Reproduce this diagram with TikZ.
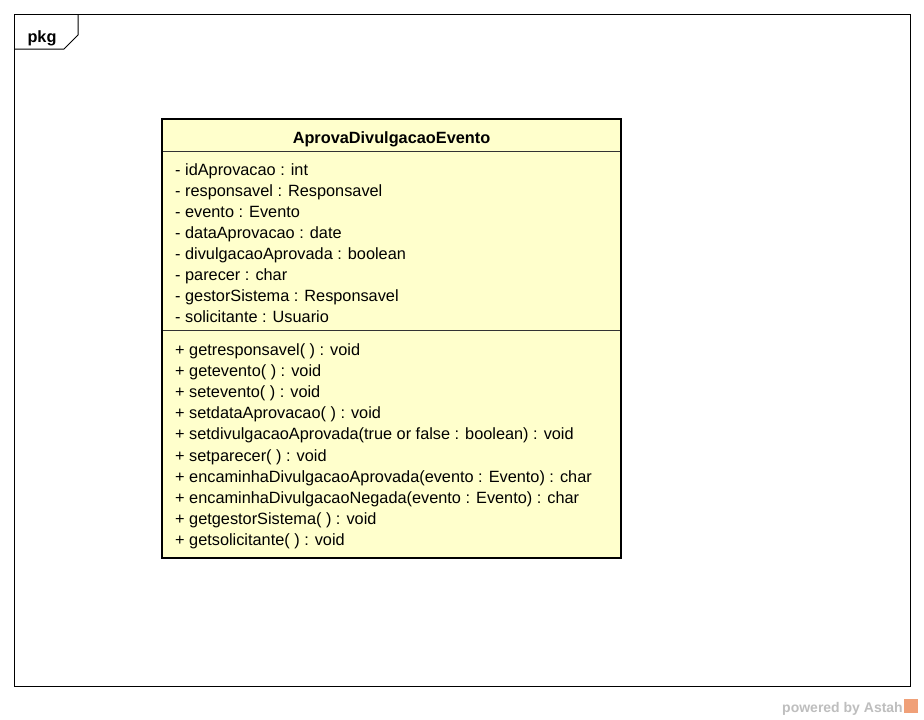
\documentclass[tikz,border=0pt]{standalone}
\usepackage{fontspec}
\setmainfont{Liberation Sans}
\begin{document}
\begin{tikzpicture}[x=1pt,y=-1pt,
  member/.style={anchor=base west,inner sep=0pt,font=\fontsize{16.3}{19}\selectfont},
  title/.style={anchor=base,inner sep=0pt,font=\fontsize{16.3}{19}\selectfont\bfseries},
  thin/.style={line width=1pt,draw=black}]
\useasboundingbox[fill=white] (0,0) rectangle (924,720);
% package frame
\draw[thin] (14,14) rectangle (910,686);
\draw[thin] (14,49) -- (64,49) -- (78,35) -- (78,14);
\node[title] (pkg) at (42,42) {pkg};
% class box
\coordinate (ctl) at (162,119);
\coordinate (cbr) at (621,558);
\fill[fill={rgb,255:red,255;green,255;blue,204}] (ctl) rectangle (cbr);
\draw[line width=0.9pt,draw=black!80] (162,151) -- (621,151);
\draw[line width=0.9pt,draw=black!80] (162,330) -- (621,330);
\draw[line width=2.6pt,draw=black] (ctl) rectangle (cbr);
\node[title] (cname) at (391.5,143) {AprovaDivulgacaoEvento};
\foreach \t [count=\i from 0] in {
  {- idAprovacao : int},
  {- responsavel : Responsavel},
  {- evento : Evento},
  {- dataAprovacao : date},
  {- divulgacaoAprovada : boolean},
  {- parecer : char},
  {- gestorSistema : Responsavel},
  {- solicitante : Usuario}}
  \node[member] (a\i) at (175,175+21.14*\i) {\t};
\foreach \t [count=\i from 0] in {
  {+ getresponsavel( ) : void},
  {+ getevento( ) : void},
  {+ setevento( ) : void},
  {+ setdataAprovacao( ) : void},
  {+ setdivulgacaoAprovada(true or false : boolean) : void},
  {+ setparecer( ) : void},
  {+ encaminhaDivulgacaoAprovada(evento : Evento) : char},
  {+ encaminhaDivulgacaoNegada(evento : Evento) : char},
  {+ getgestorSistema( ) : void},
  {+ getsolicitante( ) : void}}
  \node[member] (m\i) at (175,355+21.2*\i) {\t};
% watermark
\node[anchor=base east,inner sep=0pt,text={rgb,255:red,190;green,190;blue,190},
  font=\fontsize{14}{16}\selectfont\bfseries] (wm) at (903,712) {powered by Astah};
\fill[fill={rgb,255:red,240;green,160;blue,120}] (904,699) rectangle (918,713);
\end{tikzpicture}
\end{document}
